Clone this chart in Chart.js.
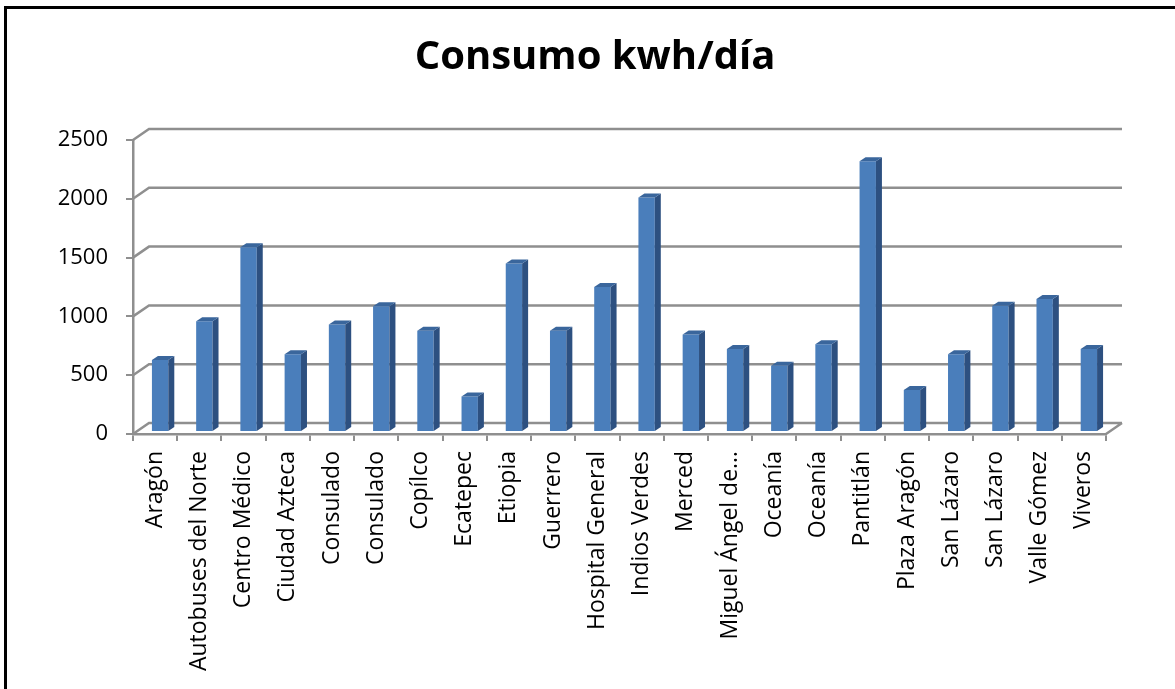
<!DOCTYPE html>
<html lang="es">
<head>
<meta charset="utf-8">
<title>Consumo kwh/día</title>
<script src="https://cdn.jsdelivr.net/npm/chart.js@4/dist/chart.umd.min.js"></script>
<style>
  html, body { margin: 0; padding: 0; background: #fff; }
  #wrap { position: relative; width: 1175px; height: 689px; overflow: hidden; }
  #frame {
    position: absolute; left: 4px; top: 6px; width: 1400px; height: 900px;
    border-top: 3px solid #000; border-left: 3px solid #000;
  }
  #consumoChart { position: absolute; left: 0; top: 0; }
</style>
</head>
<body>
<div id="wrap">
  <div id="frame"></div>
  <canvas id="consumoChart" width="1175" height="689"></canvas>
</div>
<script>
const estaciones = [
  "Aragón", "Autobuses del Norte", "Centro Médico", "Ciudad Azteca", "Consulado",
  "Consulado", "Copílco", "Ecatepec", "Etiopia", "Guerrero", "Hospital General",
  "Indios Verdes", "Merced", "Miguel Ángel de…", "Oceanía", "Oceanía", "Pantitlán",
  "Plaza Aragón", "San Lázaro", "San Lázaro", "Valle Gómez", "Viveros"
];
const consumo = [
  612, 942, 1572, 662, 915, 1070, 862, 302, 1432, 862, 1232,
  1993, 830, 705, 563, 746, 2302, 358, 662, 1074, 1130, 705
];
const yTicks = [0, 500, 1000, 1500, 2000, 2500];

(function(){
  const FONT = "'Open Sans', 'DejaVu Sans', sans-serif";
  const GRID = "#8f8f8f";
  const WALL = { dx: 16, dy: -11 };   // depth of the back wall
  const BAR = { dx: 6, dy: -4, shiftX: 5, shiftY: -2 };

  // back wall grid, the floor edge, and the 3D sides of every column
  const depthPlugin = {
    id: "depth3d",
    beforeDatasetsDraw(chart){
      const { ctx, chartArea: a, scales: { y } } = chart;
      ctx.save();
      ctx.strokeStyle = GRID;
      ctx.lineWidth = 2.5;
      ctx.beginPath();
      y.ticks.forEach(t => {
        const py = y.getPixelForValue(t.value);
        ctx.moveTo(a.left, py);
        ctx.lineTo(a.left + WALL.dx, py + WALL.dy);
        ctx.lineTo(a.right + WALL.dx, py + WALL.dy);
      });
      ctx.moveTo(a.right, a.bottom);
      ctx.lineTo(a.right + WALL.dx, a.bottom + WALL.dy);
      ctx.stroke();
      ctx.restore();

      ctx.save();
      ctx.translate(BAR.shiftX, BAR.shiftY);
    },
    afterDatasetsDraw(chart){
      const { ctx } = chart;
      const meta = chart.getDatasetMeta(0);
      meta.data.forEach(bar => {
        const { x, y, base, width } = bar.getProps(["x", "y", "base", "width"], true);
        const l = x - width / 2, r = x + width / 2;
        // right face
        ctx.fillStyle = "#2d5080";
        ctx.beginPath();
        ctx.moveTo(r, y);
        ctx.lineTo(r + BAR.dx, y + BAR.dy);
        ctx.lineTo(r + BAR.dx, base + BAR.dy);
        ctx.lineTo(r, base);
        ctx.closePath();
        ctx.fill();
        // top face
        ctx.fillStyle = "#3a669c";
        ctx.beginPath();
        ctx.moveTo(l, y);
        ctx.lineTo(l + BAR.dx, y + BAR.dy);
        ctx.lineTo(r + BAR.dx, y + BAR.dy);
        ctx.lineTo(r, y);
        ctx.closePath();
        ctx.fill();
      });
      ctx.restore();
    }
  };

  const ctx = document.getElementById("consumoChart");
  new Chart(ctx, {
    type: "bar",
    data: {
      labels: estaciones,
      datasets: [{
        label: "Consumo kwh/día",
        data: consumo,
        backgroundColor: "#4a7ebb",
        borderWidth: 0,
        barPercentage: 0.37,
        categoryPercentage: 1
      }]
    },
    options: {
      responsive: false,
      animation: false,
      devicePixelRatio: 1,
      layout: { padding: { top: 0, right: 0, bottom: 0, left: 15 } },
      plugins: {
        legend: { display: false },
        tooltip: { enabled: false },
        title: {
          display: true,
          text: "Consumo kwh/día",
          color: "#000",
          font: { family: FONT, size: 40, weight: "bold" },
          padding: { top: 34, bottom: 58 }
        }
      },
      scales: {
        x: {
          grid: { drawOnChartArea: false, drawTicks: true, tickLength: 7, color: GRID, lineWidth: 2 },
          border: { display: true, color: GRID, width: 2.5 },
          ticks: {
            autoSkip: false, minRotation: 90, maxRotation: 90, padding: 10,
            color: "#000", font: { family: FONT, size: 23 }
          },
          afterFit: s => { s.height = 255; }
        },
        y: {
          min: 0, max: 2500,
          afterBuildTicks: s => { s.ticks = yTicks.map(v => ({ value: v })); },
          grid: { drawOnChartArea: false, drawTicks: true, tickLength: 7, color: GRID, lineWidth: 2 },
          border: { display: true, color: GRID, width: 2.5 },
          ticks: {
            padding: 18, color: "#000", font: { family: FONT, size: 22 },
            callback: v => String(v)
          },
          afterFit: s => { s.width = 118; }
        },
        // empty axis on the right keeps room for the back wall depth
        yRight: {
          position: "right",
          display: true,
          grid: { display: false },
          border: { display: false },
          ticks: { display: false },
          afterFit: s => { s.width = 69; }
        }
      }
    },
    plugins: [depthPlugin]
  });
})();
</script>
</body>
</html>
